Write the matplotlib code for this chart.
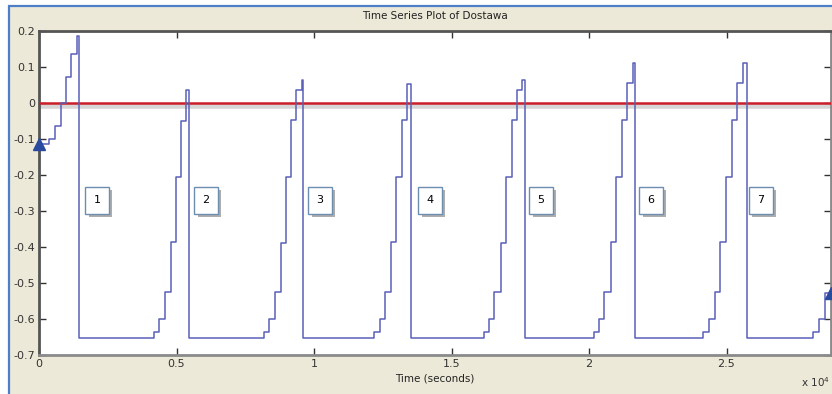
import matplotlib
matplotlib.use("Agg")
import matplotlib.pyplot as plt
from matplotlib.patches import Rectangle
from matplotlib.ticker import FuncFormatter
import matplotlib.patheffects as pe

# step series: (time in seconds, value from that time on)
t_start = [0, 360, 580, 800, 980, 1180, 1380]
v_start = [-0.114, -0.100, -0.064, 0.0, 0.072, 0.136, 0.187]

drop_times = [1460, 5450, 9600, 13530, 17670, 21670, 25750]
bottom_value = -0.652

rise_times = [
    [4180, 4360, 4580, 4800, 4980, 5160, 5350],
    [8180, 8360, 8580, 8800, 8980, 9160, 9350, 9560],
    [12180, 12400, 12580, 12800, 12980, 13200, 13380],
    [16180, 16360, 16550, 16800, 16980, 17200, 17380, 17560],
    [20180, 20360, 20550, 20800, 20980, 21200, 21380, 21600],
    [24150, 24360, 24580, 24760, 24980, 25200, 25380, 25600],
    [28150, 28360, 28580],
]
rise_values = [
    [-0.635, -0.600, -0.526, -0.387, -0.206, -0.049, 0.035],
    [-0.635, -0.600, -0.524, -0.388, -0.205, -0.047, 0.036, 0.064],
    [-0.635, -0.600, -0.526, -0.387, -0.206, -0.047, 0.053],
    [-0.635, -0.600, -0.524, -0.388, -0.205, -0.047, 0.036, 0.064],
    [-0.635, -0.600, -0.526, -0.387, -0.205, -0.047, 0.055, 0.110],
    [-0.635, -0.600, -0.526, -0.387, -0.205, -0.047, 0.055, 0.110],
    [-0.635, -0.600, -0.527],
]
t_end = 28800

label_names = ["1", "2", "3", "4", "5", "6", "7"]
label_x = [2110, 6070, 10220, 14220, 18250, 22250, 26250]
label_y = -0.27

# build the step series
times = list(t_start)
values = list(v_start)
for i, d in enumerate(drop_times):
    times.append(d)
    values.append(bottom_value)
    times += rise_times[i]
    values += rise_values[i]
times.append(t_end)
values.append(values[-1])

fig = plt.figure(figsize=(8.32, 3.94), dpi=100, facecolor="white")

# window frame
frame = Rectangle((9 / 832, -0.01), 1.0, 1 - 6 / 394 + 0.01,
                  transform=fig.transFigure, facecolor="#ECE9D8",
                  edgecolor="#4C7FC6", linewidth=1.6, zorder=-5)
fig.patches.append(frame)

ax = fig.add_axes([39 / 832, 1 - 355 / 394, 792 / 832, 324 / 394])
ax.set_zorder(2)
ax.set_facecolor("white")

# zero reference line with a soft shadow
ax.axhline(-0.008, color="#BBBBBB", linewidth=4, alpha=0.6, zorder=2)
ax.axhline(0, color="#CC1F2A", linewidth=1.8, zorder=3)

ax.plot(times, values, drawstyle="steps-post", color="#5A5FB8",
        linewidth=1.1, zorder=4)
ax.plot([times[0]], [values[0]], marker="^", color="#2A4A9E",
        markersize=8, clip_on=False, zorder=5)
ax.plot([times[-1]], [values[-1]], marker="^", color="#2A4A9E",
        markersize=8, clip_on=False, zorder=5)

for name, x in zip(label_names, label_x):
    ax.text(x, label_y, name, fontsize=8, ha="center", va="center",
            zorder=6,
            bbox=dict(boxstyle="square,pad=0.75", facecolor="white",
                      edgecolor="#6E8EB0", linewidth=1.0,
                      path_effects=[pe.withSimplePatchShadow(
                          offset=(2.5, -2.5), shadow_rgbFace="#777777",
                          alpha=0.6)]))

ax.set_xlim(0, t_end)
ax.set_ylim(-0.7, 0.2)
ax.set_xticks([0, 5000, 10000, 15000, 20000, 25000])
ax.xaxis.set_major_formatter(FuncFormatter(lambda v, p: f"{v / 1e4:g}"))
ax.set_yticks([-0.7, -0.6, -0.5, -0.4, -0.3, -0.2, -0.1, 0, 0.1, 0.2])
ax.yaxis.set_major_formatter(FuncFormatter(lambda v, p: f"{v:g}" if abs(v) > 1e-9 else "0"))
ax.tick_params(direction="in", length=5, width=1, labelsize=8,
               colors="#333333", top=True, right=True, pad=3)

for side in ["left", "top"]:
    ax.spines[side].set_color("#555555")
    ax.spines[side].set_linewidth(2)
for side in ["bottom", "right"]:
    ax.spines[side].set_color("#8A8A8A")
    ax.spines[side].set_linewidth(2)

ax.set_xlabel("Time (seconds)", fontsize=7.5, color="#222222", labelpad=3)
fig.text(0.5225, 1 - 16 / 394, "Time Series Plot of Dostawa", fontsize=7.5,
         ha="center", va="center", color="#222222")
fig.text(801 / 832, 1 - 382 / 394, "x 10$^4$", fontsize=7.5, ha="left",
         va="center", color="#333333")

fig.savefig("out.png", dpi=100, facecolor=fig.get_facecolor())
